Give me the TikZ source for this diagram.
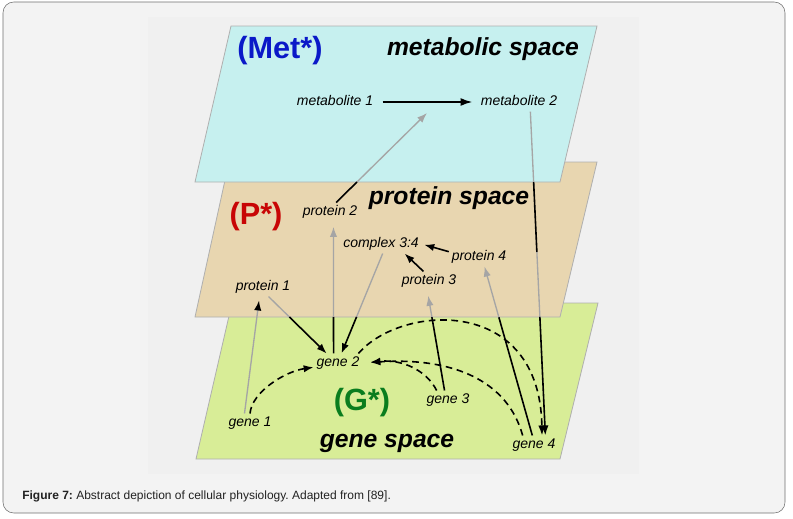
\documentclass[tikz,border=0pt]{standalone}
\usepackage{fontspec}
\setmainfont{Liberation Sans}
\usepackage{xcolor}
\usepackage{tikz}
\usetikzlibrary{arrows.meta}
\definecolor{metcyan}{RGB}{198, 240, 239}
\definecolor{proteintan}{RGB}{232, 214, 176}
\definecolor{genegreen}{RGB}{216, 237, 151}
\definecolor{planeedge}{RGB}{175, 175, 175}
\definecolor{hidden}{RGB}{165, 165, 165}
\definecolor{metblue}{RGB}{10, 25, 200}
\definecolor{pred}{RGB}{200, 5, 5}
\definecolor{ggreen}{RGB}{10, 125, 30}
\definecolor{framebg}{RGB}{243, 243, 243}
\definecolor{imagebg}{RGB}{240, 240, 240}
\definecolor{frameedge}{RGB}{110, 110, 110}
\frenchspacing

\begin{document}
\begin{tikzpicture}[x=0.75pt,y=0.75pt,yscale=-1,xscale=1,
  lbl/.style={inner sep=2pt,text height=7.7pt,text depth=2.2pt,font=\fontsize{10.5}{12}\selectfont\itshape},
  spacename/.style={inner sep=0pt,font=\fontsize{18.5}{22}\selectfont\bfseries\itshape},
  tag/.style={inner sep=0pt,font=\fontsize{23}{27}\selectfont\bfseries},
  plane/.style={draw=planeedge,line width=0.6pt},
  link/.style={line width=1.2pt},
  under/.style={draw=hidden,line width=1pt},
  tip/.style={-{Latex[length=7.5pt,width=5.5pt]}},
  dashlink/.style={link,dash pattern={on 5pt off 3.5pt},-{Latex[length=7.5pt,width=5.5pt]}}]
\useasboundingbox (0,0) rectangle (793,518);

%Shape: Frame
\draw [frameedge,fill=framebg,rounded corners=8pt] (3,2) rectangle (785,513) ;
\fill [imagebg] (148,17) rectangle (639,474) ;

%Shape: Polygon [gene plane]
\draw [plane,fill=genegreen] (232,303) -- (598,303) -- (560,459) -- (196,459) -- cycle ;
%Shape: Polygon [protein plane]
\draw [plane,fill=proteintan] (229,162) -- (597,162) -- (560,317) -- (195,317) -- cycle ;
%Shape: Polygon [metabolic plane]
\draw [plane,fill=metcyan] (231,26) -- (597,26) -- (560,182) -- (195,182) -- cycle ;

% Text Node
\node [tag,text=metblue] (mettag) at (280,51) {(Met*)};
\node [spacename] (metspace) at (483,49) {metabolic space};
\node [lbl] (met1) at (335,102) {metabolite 1};
\node [lbl] (met2) at (519,102) {metabolite 2};
\coordinate (rxn) at (427,113);
% Text Node
\node [tag,text=pred] (ptag) at (256,217) {(P*)};
\node [spacename] (protspace) at (449,198) {protein space};
\node [lbl] (prot2) at (330,212) {protein 2};
\node [lbl] (complex) at (381,244) {complex 3:4};
\node [lbl] (prot4) at (479,257) {protein 4};
\node [lbl] (prot3) at (429,281) {protein 3};
\node [lbl] (prot1) at (263,287) {protein 1};
% Text Node
\node [tag,text=ggreen] (gtag) at (362,403) {(G*)};
\node [spacename] (genespace) at (387,443) {gene space};
\node [lbl] (gene2) at (338,363) {gene 2};
\node [lbl] (gene3) at (448,400) {gene 3};
\node [lbl] (gene1) at (250,423) {gene 1};
\node [lbl] (gene4) at (534,445) {gene 4};
% Text Node
\node [anchor=west,inner sep=0pt,text={rgb,255:red,34;green,34;blue,34},font=\fontsize{9}{11}\selectfont] (caption) at (22,496) {\textbf{Figure 7:}\ Abstract depiction of cellular physiology. Adapted from [89].};

%Straight Lines [metabolite 1 -> metabolite 2]
\draw [link,line width=1.5pt,-{Latex[length=9pt,width=6pt]},shorten <=5pt,shorten >=4pt] (met1) -- (met2) ;
%Straight Lines [protein 2 -> reaction]
\path (prot2.57) -- (rxn) coordinate[pos=0.23] (p2cut) ;
\draw [link] (prot2.57) -- (p2cut) ;
\draw [under,tip] (p2cut) -- (rxn) ;
%Straight Lines [metabolite 2 -> gene 4]
\path (met2.-40) -- (gene4.40) coordinate[pos=0.218] (m2a) coordinate[pos=0.434] (m2b) coordinate[pos=0.634] (m2c) ;
\draw [under] (met2.-40) -- (m2a) ;
\draw [link] (m2a) -- (m2b) ;
\draw [under] (m2b) -- (m2c) ;
\draw [link,tip] (m2c) -- (gene4.40) ;
%Straight Lines [gene 1 -> protein 1]
\draw [under,-{Latex[length=7.5pt,width=5.5pt,color=black]},shorten >=3pt] (gene1.120) -- (prot1.-110) ;
%Straight Lines [protein 1 -> gene 2]
\path (prot1.-60) -- (gene2.140) coordinate[pos=0.36] (p1cut) ;
\draw [under] (prot1.-60) -- (p1cut) ;
\draw [link,tip] (p1cut) -- (gene2.140) ;
%Straight Lines [gene 2 -> protein 2]
\path (gene2.115) -- (prot2.-70) coordinate[pos=0.277] (g2cut) ;
\draw [link] (gene2.115) -- (g2cut) ;
\draw [under,tip,shorten >=4pt] (g2cut) -- (prot2.-70) ;
%Straight Lines [complex 3:4 -> gene 2]
\path (complex.-80) -- (gene2.70) coordinate[pos=0.634] (cxcut) ;
\draw [under] (complex.-80) -- (cxcut) ;
\draw [link,tip] (cxcut) -- (gene2.70) ;
%Straight Lines [protein 4 -> complex 3:4]
\draw [link,tip,shorten >=2pt] (prot4.170) -- (complex.east) ;
%Straight Lines [protein 3 -> complex 3:4]
\draw [link,tip] (prot3.120) -- (complex.-22) ;
%Straight Lines [gene 3 -> protein 3]
\path (gene3.110) -- (prot3.-100) coordinate[pos=0.734] (g3cut) ;
\draw [link] (gene3.110) -- (g3cut) ;
\draw [under,tip,shorten >=4pt] (g3cut) -- (prot3.-100) ;
%Straight Lines [gene 4 -> protein 4]
\path (gene4.100) -- (prot4.-60) coordinate[pos=0.70] (g4cut) ;
\draw [link] (gene4.100) -- (g4cut) ;
\draw [under,tip] (g4cut) -- (prot4.-60) ;

%Curve Lines [gene 1 -> gene 2]
\draw [dashlink] (gene1.north) .. controls +(2,-22) and +(-28,4) .. (gene2.190) ;
%Curve Lines [gene 3 -> gene 2]
\draw [dashlink,shorten >=6pt] (gene3.140) .. controls +(-10,-20) and +(40,-4) .. (gene2.east) ;
%Curve Lines [gene 4 -> gene 2]
\draw [dashlink,shorten >=6pt] (gene4.140) .. controls +(-15,-55) and +(90,-6) .. (gene2.east) ;
%Curve Lines [gene 2 -> gene 4]
\draw [dashlink] (gene2.25) .. controls +(42,-49) and +(-2,-141) .. (gene4.50) ;

\end{tikzpicture}
\end{document}
